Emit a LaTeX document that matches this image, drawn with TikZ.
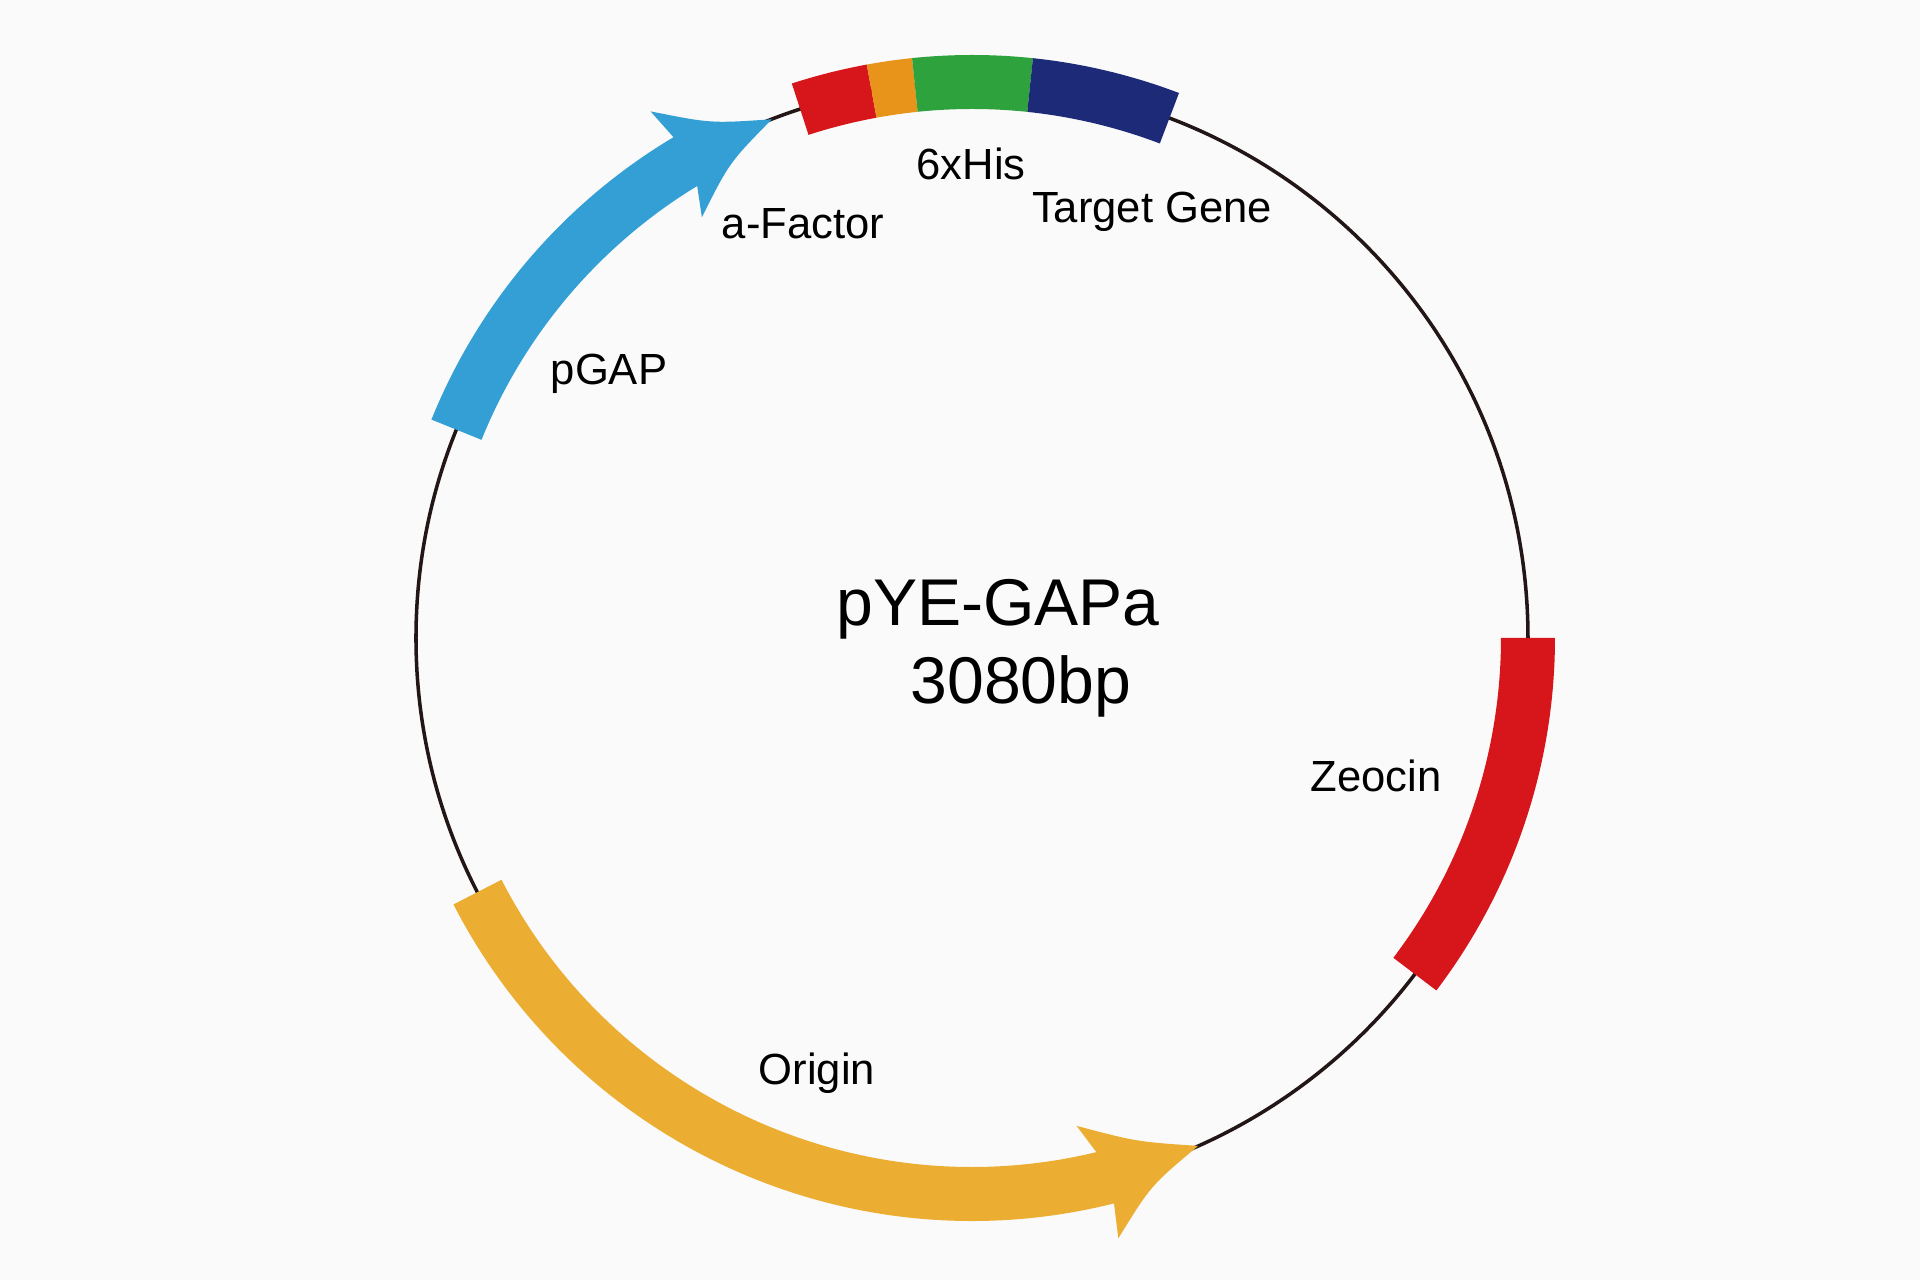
\documentclass[tikz,border=0pt]{standalone}
\usepackage{fontspec}
\setmainfont{Liberation Sans}
\definecolor{bg}{RGB}{250,250,250}
\definecolor{linecol}{RGB}{35,22,22}
\definecolor{pgapblue}{RGB}{51,159,212}
\definecolor{featred}{RGB}{214,22,26}
\definecolor{featorange}{RGB}{232,147,26}
\definecolor{featgreen}{RGB}{46,163,61}
\definecolor{featnavy}{RGB}{28,42,120}
\definecolor{origincol}{RGB}{235,174,50}
\tikzset{
  lbl/.style={anchor=base, inner sep=0pt, text=black, font=\fontsize{12.4}{14}\selectfont},
  title/.style={anchor=base, inner sep=0pt, text=black, font=\fontsize{18.8}{22}\selectfont},
  backbone/.style={draw=linecol, line width=1pt}
}
\begin{document}
\begin{tikzpicture}[x=0.01cm,y=0.01cm]
\fill[bg] (-972,-642) rectangle (948,638);
\useasboundingbox (-972,-642) rectangle (948,638);
\coordinate (c) at (0,0);
% backbone
\draw[backbone] (c) circle[radius=556];
% pGAP arrow (clockwise)
\fill[pgapblue] (158:583) arc[start angle=158,end angle=120.8,radius=583]
  -- (121.4:617) .. controls (116.9:577) .. (111.1:556)
  .. controls (117.05:533.7) .. (122.7:500)
  -- (121.3:529) arc[start angle=121.3,end angle=158,radius=529] -- cycle;
% top band segments
\fill[featred] (108:583) arc[start angle=108,end angle=100.4,radius=583] -- (100.4:529) arc[start angle=100.4,end angle=108,radius=529] -- cycle;
\fill[featorange] (100.4:583) arc[start angle=100.4,end angle=95.9,radius=583] -- (95.9:529) arc[start angle=95.9,end angle=100.4,radius=529] -- cycle;
\fill[featgreen] (95.9:583) arc[start angle=95.9,end angle=84,radius=583] -- (84:529) arc[start angle=84,end angle=95.9,radius=529] -- cycle;
\fill[featnavy] (84:583) arc[start angle=84,end angle=69.2,radius=583] -- (69.2:529) arc[start angle=69.2,end angle=84,radius=529] -- cycle;
% Zeocin
\fill[featred] (0:583) arc[start angle=0,end angle=-37.2,radius=583] -- (-37.2:529) arc[start angle=-37.2,end angle=0,radius=529] -- cycle;
% Origin arrow (counterclockwise)
\fill[origincol] (207.2:529) arc[start angle=207.2,end angle=283.6,radius=529]
  -- (282.1:499) .. controls (288.1:530) .. (294:556)
  .. controls (288.1:576) .. (283.7:618)
  -- (284.1:583) arc[start angle=284.1,end angle=207.2,radius=583] -- cycle;
% labels
\node[lbl] (his) at (-1,458) {6xHis};
\node[lbl] (target) at (180,415) {Target Gene};
\node[lbl] (afactor) at (-169,399) {a-Factor};
\node[lbl] (pgap) at (-363,253) {pGAP};
\node[lbl] (zeocin) at (404,-154) {Zeocin};
\node[lbl] (origin) at (-155,-447) {Origin};
\node[title] (name) at (26,12) {pYE-GAPa};
\node[title] (size) at (49,-66) {3080bp};
\end{tikzpicture}
\end{document}
